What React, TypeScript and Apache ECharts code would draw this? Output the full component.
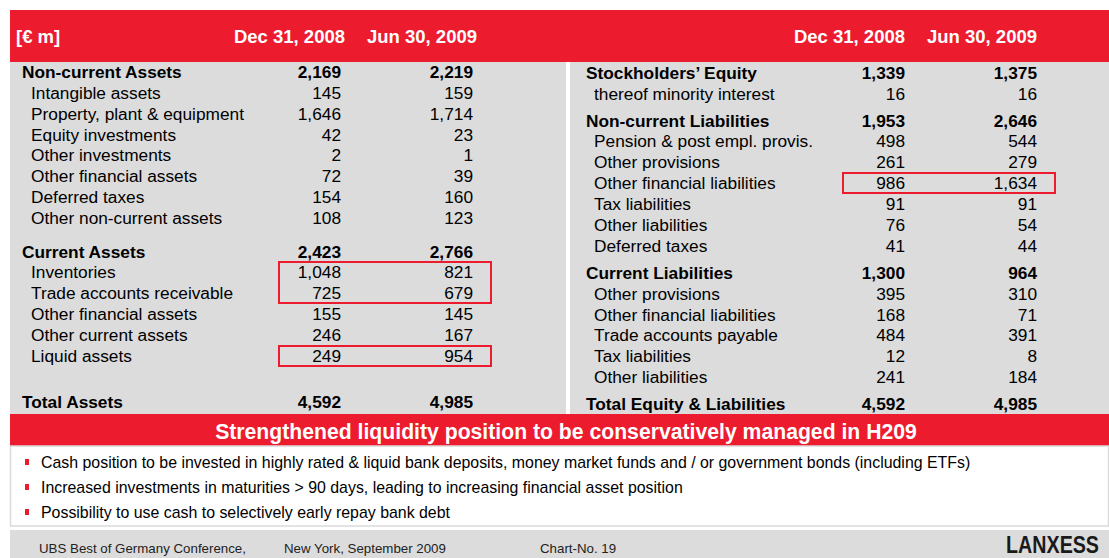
import React, { useEffect, useRef } from "react";
import * as echarts from "echarts";

// ---- Data ----
const columnHeaders = ["Dec 31, 2008", "Jun 30, 2009"];
const unitLabel = "[€ m]";

const assetLabels = [
  "Non-current Assets", "Intangible assets", "Property, plant & equipment", "Equity investments",
  "Other investments", "Other financial assets", "Deferred taxes", "Other non-current assets",
  "Current Assets", "Inventories", "Trade accounts receivable", "Other financial assets",
  "Other current assets", "Liquid assets", "Total Assets",
];
const assets2008 = ["2,169", "145", "1,646", "42", "2", "72", "154", "108", "2,423", "1,048", "725", "155", "246", "249", "4,592"];
const assets2009 = ["2,219", "159", "1,714", "23", "1", "39", "160", "123", "2,766", "821", "679", "145", "167", "954", "4,985"];
const assetBold = [true, false, false, false, false, false, false, false, true, false, false, false, false, false, true];

const liabLabels = [
  "Stockholders’ Equity", "thereof minority interest", "Non-current Liabilities", "Pension & post empl. provis.",
  "Other provisions", "Other financial liabilities", "Tax liabilities", "Other liabilities", "Deferred taxes",
  "Current Liabilities", "Other provisions", "Other financial liabilities", "Trade accounts payable",
  "Tax liabilities", "Other liabilities", "Total Equity & Liabilities",
];
const liab2008 = ["1,339", "16", "1,953", "498", "261", "986", "91", "76", "41", "1,300", "395", "168", "484", "12", "241", "4,592"];
const liab2009 = ["1,375", "16", "2,646", "544", "279", "1,634", "91", "54", "44", "964", "310", "71", "391", "8", "184", "4,985"];
const liabBold = [true, false, true, false, false, false, false, false, false, true, false, false, false, false, false, true];

const headline = "Strengthened liquidity position to be conservatively managed in H209";
const bullets = [
  "Cash position to be invested in highly rated & liquid bank deposits, money market funds and / or government bonds (including ETFs)",
  "Increased investments in maturities > 90 days, leading to increasing financial asset position",
  "Possibility to use cash to selectively early repay bank debt",
];
const footerTexts = ["UBS Best of Germany Conference,", "New York, September 2009", "Chart-No. 19"];
const logoText = "LANXESS";

// ---- Layout (positions only) ----
const assetY = [72, 93, 114, 135, 155, 176, 197, 218, 252, 272, 293, 314, 335, 356, 402];
const liabY = [73, 94, 121, 141, 162, 183, 204, 225, 246, 273, 294, 315, 335, 356, 377, 404];

const RED = "#ED1B2E";
const GRAY = "#DCDCDC";
const FONT = "'Liberation Sans', Arial, Helvetica, sans-serif";
const TS = 17.3;

export default function App() {
  const ref = useRef<HTMLDivElement>(null);
  useEffect(() => {
    if (!ref.current) return;
    const chart = echarts.init(ref.current, null, { renderer: "svg" });
    const els: any[] = [];

    // backgrounds
    els.push({ type: "rect", shape: { x: 10, y: 10, width: 1099, height: 52 }, style: { fill: RED } });
    els.push({ type: "rect", shape: { x: 10, y: 62, width: 556, height: 352 }, style: { fill: GRAY } });
    els.push({ type: "rect", shape: { x: 570, y: 62, width: 539, height: 352 }, style: { fill: GRAY } });
    els.push({ type: "rect", shape: { x: 10, y: 414, width: 1099, height: 32 }, style: { fill: RED } });
    els.push({ type: "rect", shape: { x: 10.5, y: 446, width: 1098, height: 80 }, style: { fill: "#fff", stroke: "#DADADA", lineWidth: 1.5 } });
    els.push({ type: "rect", shape: { x: 10, y: 530, width: 1099, height: 28 }, style: { fill: GRAY } });

    const txt = (x: number, y: number, text: string, o: any = {}) => ({
      type: "text",
      x, y,
      style: {
        text,
        fontFamily: FONT,
        fontSize: o.size || TS,
        fontWeight: o.bold ? "bold" : "normal",
        fill: o.fill || "#000",
        align: o.align || "left",
        verticalAlign: "middle",
      },
    });

    // header
    els.push(txt(16, 36, unitLabel, { bold: true, size: 18.5, fill: "#fff" }));
    els.push(txt(345, 36, columnHeaders[0], { bold: true, size: 18.5, fill: "#fff", align: "right" }));
    els.push(txt(477, 36, columnHeaders[1], { bold: true, size: 18.5, fill: "#fff", align: "right" }));
    els.push(txt(905, 36, columnHeaders[0], { bold: true, size: 18.5, fill: "#fff", align: "right" }));
    els.push(txt(1037, 36, columnHeaders[1], { bold: true, size: 18.5, fill: "#fff", align: "right" }));

    // left table
    assetLabels.forEach((l, i) => {
      const b = assetBold[i];
      els.push(txt(b ? 22 : 31, assetY[i], l, { bold: b }));
      els.push(txt(341, assetY[i], assets2008[i], { bold: b, align: "right" }));
      els.push(txt(473, assetY[i], assets2009[i], { bold: b, align: "right" }));
    });
    // right table
    liabLabels.forEach((l, i) => {
      const b = liabBold[i];
      els.push(txt(b ? 586 : 594, liabY[i], l, { bold: b }));
      els.push(txt(905, liabY[i], liab2008[i], { bold: b, align: "right" }));
      els.push(txt(1037, liabY[i], liab2009[i], { bold: b, align: "right" }));
    });

    // highlight boxes
    const box = (x: number, y: number, w: number, h: number) => ({
      type: "rect", shape: { x, y, width: w, height: h },
      style: { fill: "none", stroke: RED, lineWidth: 2 },
    });
    els.push(box(279, 262, 212, 41));
    els.push(box(279, 346, 212, 20));
    els.push(box(843, 173, 212, 20));

    // headline
    els.push(txt(566, 431, headline, { bold: true, size: 21.2, fill: "#fff", align: "center" }));

    // bullets
    const bulletY = [462, 487, 512];
    bullets.forEach((b, i) => {
      els.push({ type: "rect", shape: { x: 25, y: bulletY[i] - 3, width: 4, height: 6 }, style: { fill: RED } });
      els.push(txt(41, bulletY[i], b, { size: 15.9 }));
    });

    // footer
    els.push(txt(39, 548, footerTexts[0], { size: 13.3, fill: "#222" }));
    els.push(txt(284, 548, footerTexts[1], { size: 13.3, fill: "#222" }));
    els.push(txt(540, 548, footerTexts[2], { size: 13.3, fill: "#222" }));
    els.push({
      type: "text", x: 1099, y: 545, scaleX: 0.82,
      style: {
        text: logoText, fontFamily: FONT,
        fontSize: 24, fontWeight: "bold", fill: "#1a1a1a", align: "right", verticalAlign: "middle",
      },
    });

    chart.setOption({ animation: false, graphic: { elements: els } });
    return () => chart.dispose();
  }, []);

  return (
    <div
      ref={ref}
      style={{ position: "absolute", left: 0, top: 0, width: 1109, height: 558, background: "#fff" }}
    />
  );
}
